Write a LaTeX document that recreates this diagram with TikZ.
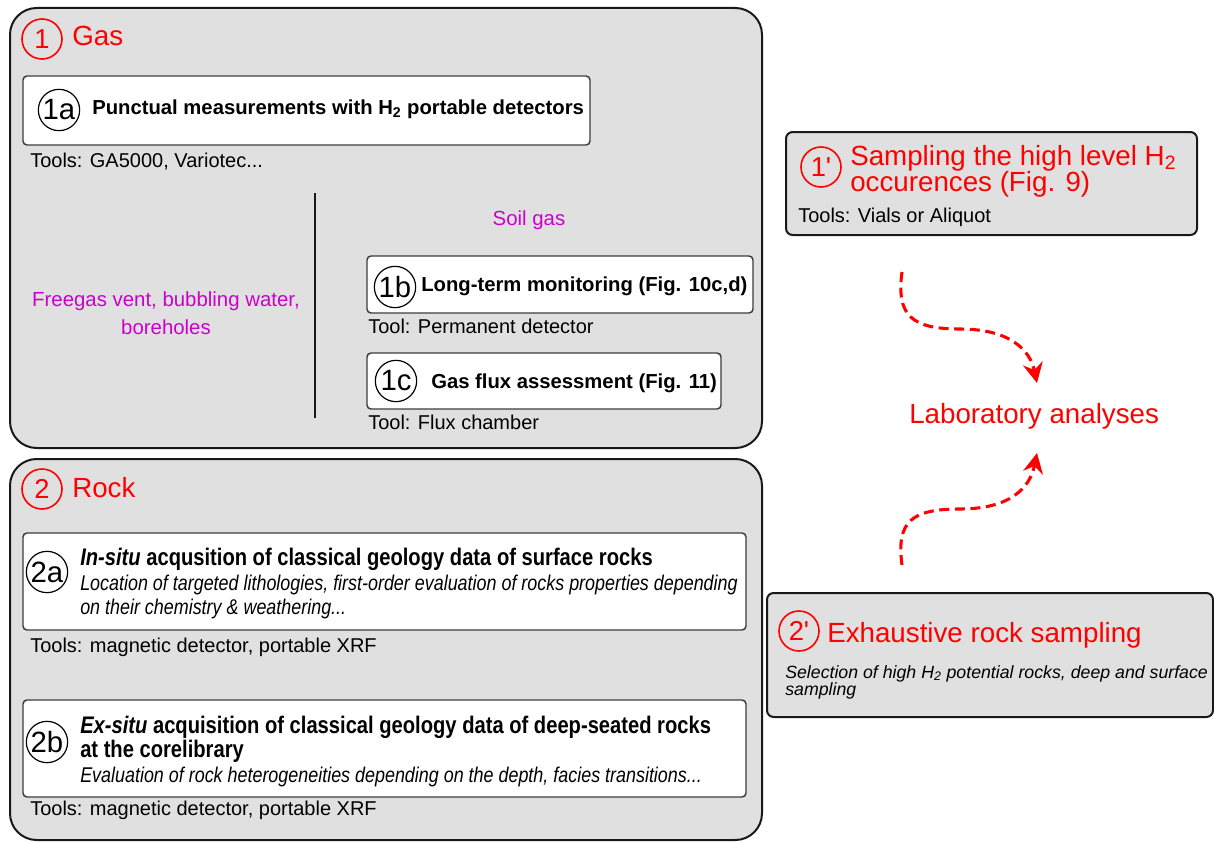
\documentclass[tikz,border=0pt]{standalone}
\usepackage{fontspec}
\setmainfont{Liberation Sans}
\newfontfamily\plainsans{Liberation Sans}
\newfontfamily\narrowfont[FakeStretch=0.84]{Liberation Sans}
\usetikzlibrary{fit,arrows.meta}
\definecolor{myred}{RGB}{255,0,0}
\definecolor{mymag}{RGB}{204,0,204}
\definecolor{boxgray}{RGB}{224,224,224}
\definecolor{edge}{RGB}{25,25,25}
\begin{document}
\begin{tikzpicture}[x=0.75pt,y=-0.75pt,
  bigbox/.style={draw=edge, line width=1.5pt, fill=boxgray, rounded corners=20pt, inner sep=0pt},
  sidebox/.style={draw=edge, line width=1.5pt, fill=boxgray, rounded corners=5pt, inner sep=0pt},
  whitebox/.style={draw=edge!85, line width=1.1pt, fill=white, rounded corners=3pt, inner sep=0pt},
  num/.style={circle, draw=black, line width=0.9pt, inner sep=0pt, minimum size=31pt, font=\fontsize{22}{22}\selectfont},
  rednum/.style={circle, draw=myred, text=myred, line width=1.2pt, inner sep=0pt, minimum size=30pt, font=\plainsans\fontsize{20.5}{22}\selectfont},
  txt/.style={anchor=base west, inner sep=0pt, font=\fontsize{15}{18}\selectfont},
  btxt/.style={anchor=base west, inner sep=0pt, font=\fontsize{15.2}{18}\selectfont\bfseries},
  redtitle/.style={anchor=base west, inner sep=0pt, text=myred, font=\fontsize{20.8}{24}\selectfont},
  magtxt/.style={anchor=base, inner sep=0pt, text=mymag, font=\fontsize{15.3}{18}\selectfont},
  nbold/.style={anchor=base west, inner sep=0pt, font=\narrowfont\fontsize{18}{20}\selectfont\bfseries},
  nital/.style={anchor=base west, inner sep=0pt, font=\narrowfont\fontsize{16}{18}\selectfont\itshape},
  smallital/.style={anchor=base west, inner sep=0pt, font=\fontsize{13.3}{15}\selectfont\itshape},
  dasharrow/.style={draw=myred, line width=2.3pt, dash pattern=on 7.5pt off 4.2pt,
    -{Stealth[length=15pt, width=15pt, inset=5pt, fill=myred]}}
]
\useasboundingbox (0,0) rectangle (1214,842);

% ---------- Box 1: Gas ----------
\node[bigbox, fit={(10,8) (762,448)}] (gasbox) {};
\node[rednum] (n1) at (42,39) {1};
\node[redtitle] (gas) at (72,46) {Gas};

\node[whitebox, fit={(23,76) (590,145)}] (b1a) {};
\node[num] (n1a) at (59,110) {1a};
\node[btxt] (t1a) at (92,114) {Punctual measurements with H\textsubscript{2} portable detectors};
\node[txt] (tools1a) at (30,167) {Tools: GA5000, Variotec...};

\coordinate (vl1) at (315,193);
\coordinate (vl2) at (315,418);
\draw[line width=1.5pt, draw=edge] (vl1) -- (vl2);

\node[magtxt] (soil) at (529,225) {Soil gas};
\node[magtxt] (free1) at (166,306) {Freegas vent, bubbling water,};
\node[magtxt] (free2) at (166,334) {boreholes};

\node[whitebox, fit={(367,256) (753,313)}] (b1b) {};
\node[num] (n1b) at (395,287) {1b};
\node[btxt] (t1b) at (421,291) {Long-term monitoring (Fig. 10c,d)};
\node[txt] (tools1b) at (368,333) {Tool: Permanent detector};

\node[whitebox, fit={(367,353) (721,409)}] (b1c) {};
\node[num] (n1c) at (396,381) {1c};
\node[btxt] (t1c) at (431,388) {Gas flux assessment (Fig. 11)};
\node[txt] (tools1c) at (368,429) {Tool: Flux chamber};

% ---------- Box 2: Rock ----------
\node[bigbox, fit={(10,459) (762,840)}] (rockbox) {};
\node[rednum] (n2) at (42,489) {2};
\node[redtitle] (rock) at (72,497) {Rock};

\node[whitebox, fit={(23,533) (746,630)}] (b2a) {};
\node[num] (n2a) at (47,572) {2a};
\node[nbold] (t2a1) at (80,565) {\textit{In-situ} acqusition of classical geology data of surface rocks};
\node[nital] (t2a2) at (80,590) {Location of targeted lithologies, first-order evaluation of rocks properties depending};
\node[nital] (t2a3) at (80,614) {on their chemistry \& weathering...};
\node[txt] (tools2a) at (30,652) {Tools: magnetic detector, portable XRF};

\node[whitebox, fit={(23,700) (746,797)}] (b2b) {};
\node[num] (n2b) at (47,742) {2b};
\node[nbold] (t2b1) at (80,733) {\textit{Ex-situ} acquisition of classical geology data of deep-seated rocks};
\node[nbold] (t2b2) at (80,757) {at the corelibrary};
\node[nital] (t2b3) at (80,782) {Evaluation of rock heterogeneities depending on the depth, facies transitions...};
\node[txt] (tools2b) at (30,815) {Tools: magnetic detector, portable XRF};

% ---------- Right side ----------
\node[sidebox, fit={(786,132) (1197,235)}] (b1p) {};
\node[rednum] (n1p) at (821,167) {1'};
\node[redtitle] (t1p1) at (850,165) {Sampling the high level H\textsubscript{2}};
\node[redtitle] (t1p2) at (850,191) {occurences (Fig. 9)};
\node[txt] (tools1p) at (798,222) {Tools: Vials or Aliquot};

\node[redtitle] (lab) at (909,423) {Laboratory analyses};

\node[sidebox, fit={(767,593) (1213,717)}] (b2p) {};
\node[rednum] (n2p) at (799,631) {2'};
\node[redtitle] (t2p) at (827,642) {Exhaustive rock sampling};
\node[smallital] (t2p1) at (785,678) {Selection of high H\textsubscript{2} potential rocks, deep and surface};
\node[smallital] (t2p2) at (785,695) {sampling};

\coordinate (a1s) at (902,272);
\coordinate (a1e) at (1037,383);
\coordinate (a2s) at (902,565);
\coordinate (a2e) at (1037,453);
\draw[dasharrow] (a1s) .. controls (896,316) and (912,329) .. (960,329)
                       .. controls (1010,329) and (1030,350) .. (a1e);
\draw[dasharrow] (a2s) .. controls (896,521) and (912,509) .. (960,509)
                       .. controls (1010,509) and (1030,488) .. (a2e);
\end{tikzpicture}
\end{document}
